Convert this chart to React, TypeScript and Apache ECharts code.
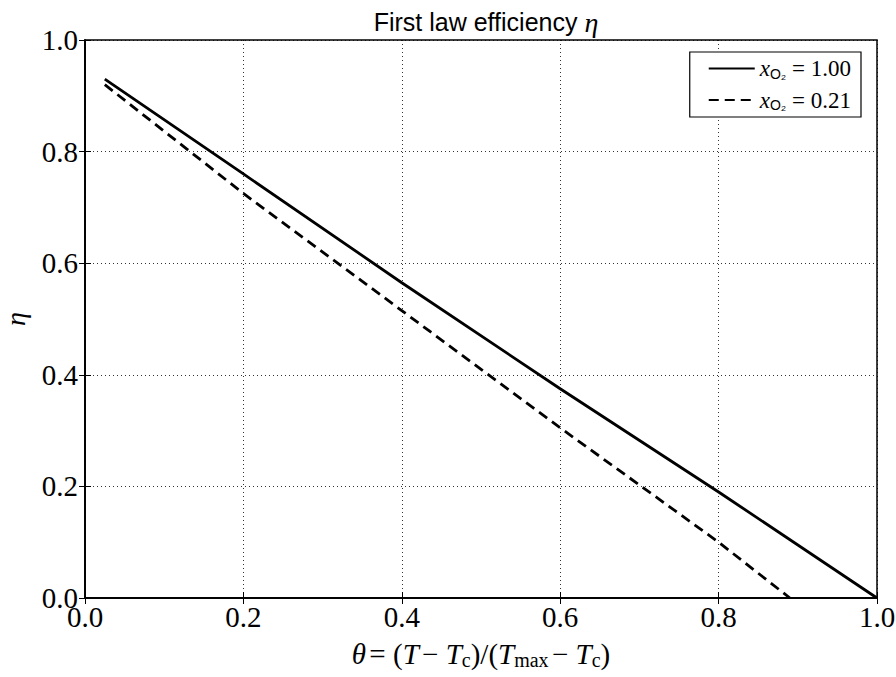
import React, { useEffect, useRef } from "react";
import * as echarts from "echarts";

const solidTheta = [0.025, 0.2, 0.4, 0.6, 0.8, 1.0];
const solidEta = [0.93, 0.76, 0.565, 0.375, 0.19, 0.0];
const dashedTheta = [0.025, 0.2, 0.4, 0.6, 0.8, 0.89];
const dashedEta = [0.92, 0.725, 0.515, 0.305, 0.1, 0.0];
const seriesNames = ["x_O2 = 1.00", "x_O2 = 0.21"];
const legendValues = ["1.00", "0.21"];

const serif = "'Liberation Serif', 'DejaVu Serif', serif";
const sans = "'Liberation Sans', Arial, sans-serif";

export default function App() {
  const ref = useRef<HTMLDivElement>(null);
  useEffect(() => {
    if (!ref.current) return;
    const chart = echarts.init(ref.current, null, { renderer: "svg" });
    const pair = (xs: number[], ys: number[]) => xs.map((x, i) => [x, ys[i]]);
    const axisCommon = {
      type: "value",
      min: 0,
      max: 1,
      interval: 0.2,
    };
    const fmt = (v: number) => v.toFixed(1);
    chart.setOption({
      animation: false,
      backgroundColor: "#fff",
      title: {
        text: "{a|First law efficiency }{b|η}",
        left: 481,
        textAlign: "center",
        top: 3,
        textStyle: {
          fontWeight: "normal",
          rich: {
            a: { fontFamily: sans, fontSize: 25, fontWeight: "normal", color: "#000" },
            b: { fontFamily: serif, fontStyle: "italic", fontWeight: "normal", fontSize: 28, color: "#000" },
          },
        },
      },
      grid: {
        left: 85,
        right: 19,
        top: 40,
        bottom: 79,
        outerBoundsMode: "none",
        containLabel: false,
        show: true,
        borderColor: "#000",
        borderWidth: 1.5,
        backgroundColor: "transparent",
      },
      legend: {
        right: 35,
        top: 52,
        orient: "vertical",
        itemWidth: 46,
        itemHeight: 12,
        itemGap: 8,
        padding: [5, 10, 5, 18],
        borderColor: "#000",
        borderWidth: 1.2,
        borderRadius: 0,
        backgroundColor: "#fff",
        itemStyle: { opacity: 0 },
        data: seriesNames,
        formatter: (name: string) => {
          const v = legendValues[seriesNames.indexOf(name)];
          return "{x|x}{s|O₂}{e| = " + v + "}";
        },
        textStyle: {
          rich: {
            x: { fontFamily: serif, fontStyle: "italic", fontSize: 23, color: "#000" },
            s: { fontFamily: sans, fontSize: 14, color: "#000", verticalAlign: "bottom", padding: [10, 0, 0, 0] },
            e: { fontFamily: serif, fontSize: 23, color: "#000" },
          },
        },
      },
      xAxis: [
        {
          ...axisCommon,
          name: "{t|θ} {n|= (}{t|T} {n|− }{t|T}{s|c}{n|)/(}{t|T}{s|max} {n|− }{t|T}{s|c}{n|)}",
          nameLocation: "middle",
          nameGap: 40,
          nameTextStyle: {
            rich: {
              t: { fontFamily: serif, fontStyle: "italic", fontSize: 29, color: "#000" },
              n: { fontFamily: serif, fontSize: 29, color: "#000" },
              s: { fontFamily: serif, fontSize: 20, color: "#000", verticalAlign: "bottom", padding: [12, 0, 0, 0] },
            },
          },
          axisLine: { show: true, lineStyle: { color: "#000", width: 1.5 } },
          axisTick: { show: true, inside: true, length: 6, lineStyle: { color: "#000" } },
          axisLabel: { fontFamily: serif, fontSize: 29, color: "#000", margin: 4, formatter: fmt },
          splitLine: { show: true, lineStyle: { color: "#000", type: [1, 3], width: 0.8 } },
        },
        {
          ...axisCommon,
          position: "top",
          axisLine: { show: true, lineStyle: { color: "#000", width: 1.5 } },
          axisTick: { show: true, inside: true, length: 6, lineStyle: { color: "#000" } },
          axisLabel: { show: false },
          splitLine: { show: false },
        },
      ],
      yAxis: [
        {
          ...axisCommon,
          name: "η",
          nameLocation: "middle",
          nameGap: 56,
          nameRotate: 90,
          nameTextStyle: { fontFamily: serif, fontStyle: "italic", fontSize: 28, color: "#000" },
          axisLine: { show: true, lineStyle: { color: "#000", width: 1.5 } },
          axisTick: { show: true, inside: true, length: 6, lineStyle: { color: "#000" } },
          axisLabel: { fontFamily: serif, fontSize: 29, color: "#000", margin: 7, formatter: fmt },
          splitLine: { show: true, lineStyle: { color: "#000", type: [1, 3], width: 0.8 } },
        },
        {
          ...axisCommon,
          position: "right",
          axisLine: { show: true, lineStyle: { color: "#000", width: 1.5 } },
          axisTick: { show: true, inside: true, length: 6, lineStyle: { color: "#000" } },
          axisLabel: { show: false },
          splitLine: { show: false },
        },
      ],
      series: [
        {
          name: seriesNames[0],
          type: "line",
          data: pair(solidTheta, solidEta),
          symbol: "none",
          lineStyle: { color: "#000", width: 2.8 },
          itemStyle: { color: "#000" },
        },
        {
          name: seriesNames[1],
          type: "line",
          data: pair(dashedTheta, dashedEta),
          symbol: "none",
          lineStyle: { color: "#000", width: 2.8, type: [10, 6] },
          itemStyle: { color: "#000" },
        },
      ],
    });
    return () => chart.dispose();
  }, []);
  return <div ref={ref} style={{ width: 896, height: 677, position: "absolute", left: 0, top: 0 }} />;
}
